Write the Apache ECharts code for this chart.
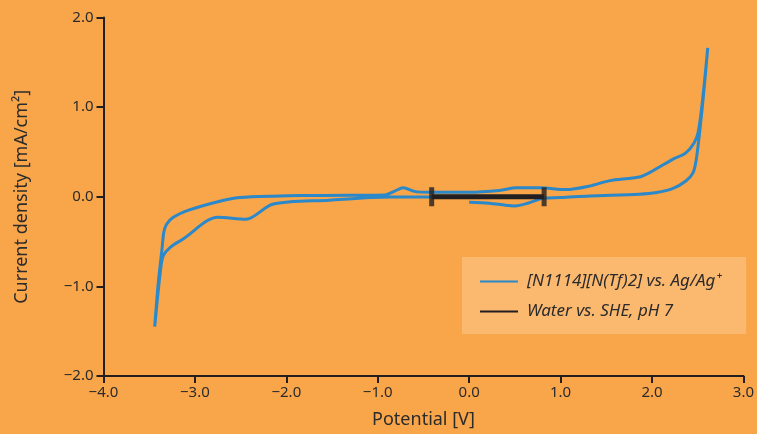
<!DOCTYPE html>
<html>
<head>
<meta charset="utf-8">
<script src="https://cdn.jsdelivr.net/npm/echarts@6/dist/echarts.min.js"></script>
<style>
html,body{margin:0;padding:0;background:#F9A54A;}
#chart{width:757px;height:434px;}
</style>
</head>
<body>
<div id="chart"></div>
<script>
// Cyclic voltammogram of [N1114][N(Tf)2] (scan order)
const cvPotential = [
  0.00, 0.22, 0.40, 0.50, 0.65, 0.82, 1.00, 1.32, 1.86, 2.05, 2.23, 2.37, 2.45, 2.485, 2.52, 2.56, 2.61,
  2.55, 2.505, 2.46, 2.37, 2.23, 2.01, 1.86, 1.54, 1.32, 1.06, 0.77, 0.52, 0.33, 0.00, -0.43, -0.60, -0.72, -0.82, -0.92,
  -1.31, -1.85, -2.07, -2.51, -2.76, -3.06, -3.24, -3.31, -3.34, -3.36, -3.40, -3.44,
  -3.375, -3.346, -3.27, -3.13, -2.75, -2.44, -2.15, -1.53, -0.87, -0.40, 0.00
];
const cvCurrent = [
  -0.06, -0.072, -0.095, -0.102, -0.07, -0.015, -0.009, 0.009, 0.028, 0.047, 0.094, 0.176, 0.27, 0.42, 0.71, 1.10, 1.66,
  1.05, 0.72, 0.60, 0.49, 0.42, 0.29, 0.22, 0.18, 0.12, 0.08, 0.10, 0.10, 0.07, 0.05, 0.05, 0.06, 0.10, 0.06, 0.02,
  0.017, 0.013, 0.009, -0.009, -0.058, -0.147, -0.231, -0.306, -0.394, -0.583, -0.95, -1.45,
  -0.806, -0.658, -0.564, -0.472, -0.228, -0.25, -0.083, -0.039, -0.003, -0.003, 0.00
];
// Water electrochemical window vs. SHE at pH 7
const waterPotential = [-0.41, 0.82];
const waterCurrent = [0, 0];

const xTicks = [-4, -3, -2, -1, 0, 1, 2, 3];
const yTicks = [-2, -1, 0, 1, 2];

const seriesNames = ['[N1114][N(Tf)2] vs. Ag/Ag\u207A', 'Water vs. SHE, pH 7'];

const cvData = cvPotential.map((x, i) => [x, cvCurrent[i]]);
const waterData = waterPotential.map((x, i) => [x, waterCurrent[i]]);

const fmt = v => (v < 0 ? '\u2212' : '') + Math.abs(v).toFixed(1);
const textColor = '#2b2b2b';
const axisColor = '#231f20';
const fontFamily = '"Noto Sans", "Open Sans", sans-serif';

const chart = echarts.init(document.getElementById('chart'), null, {renderer: 'canvas'});
chart.setOption({
  backgroundColor: '#F9A54A',
  animation: false,
  textStyle: {fontFamily: fontFamily},
  grid: {left: 103.5, right: 13, top: 17.5, bottom: 56.5, containLabel: false},
  xAxis: {
    type: 'value', min: xTicks[0], max: xTicks[xTicks.length - 1], interval: 1,
    name: 'Potential [V]', nameLocation: 'middle', nameGap: 35,
    nameTextStyle: {color: textColor, fontSize: 18, fontFamily: fontFamily},
    axisLine: {show: true, onZero: false, lineStyle: {color: axisColor, width: 2}},
    axisTick: {show: true, length: 7, lineStyle: {color: axisColor, width: 2}},
    axisLabel: {color: textColor, fontSize: 15, margin: 9, formatter: fmt, fontFamily: fontFamily},
    splitLine: {show: false}
  },
  yAxis: {
    type: 'value', min: yTicks[0], max: yTicks[yTicks.length - 1], interval: 1,
    name: 'Current density [mA/cm\u00B2]', nameLocation: 'middle', nameGap: 73, nameRotate: 90,
    nameTextStyle: {color: textColor, fontSize: 18, fontFamily: fontFamily},
    axisLine: {show: true, onZero: false, lineStyle: {color: axisColor, width: 2}},
    axisTick: {show: true, length: 7, lineStyle: {color: axisColor, width: 2}},
    axisLabel: {color: textColor, fontSize: 15, margin: 10, formatter: fmt, fontFamily: fontFamily},
    splitLine: {show: false}
  },
  legend: {
    orient: 'vertical', left: 462, top: 257,
    padding: [16, 25, 14, 17],
    backgroundColor: '#FBB86F',
    itemWidth: 38, itemHeight: 14, itemGap: 13,
    itemStyle: {opacity: 0},
    data: seriesNames,
    textStyle: {color: textColor, fontSize: 17, fontStyle: 'italic', fontFamily: fontFamily, padding: [0, 0, 0, 4]}
  },
  series: [
    {
      name: seriesNames[0], type: 'line', data: cvData, showSymbol: false, symbol: 'none',
      smooth: 0.3, lineStyle: {color: '#2B88C9', width: 3}, itemStyle: {color: '#2B88C9'}, z: 2
    },
    {
      name: seriesNames[1], type: 'line', data: waterData, showSymbol: false, symbol: 'none',
      lineStyle: {color: '#231f20', width: 5}, itemStyle: {color: '#231f20'}, z: 3
    },
    {
      name: 'caps', type: 'scatter', data: waterData, symbol: 'rect', symbolSize: [5, 19],
      itemStyle: {color: '#231f20'}, z: 4, silent: true
    }
  ]
});
</script>
</body>
</html>
